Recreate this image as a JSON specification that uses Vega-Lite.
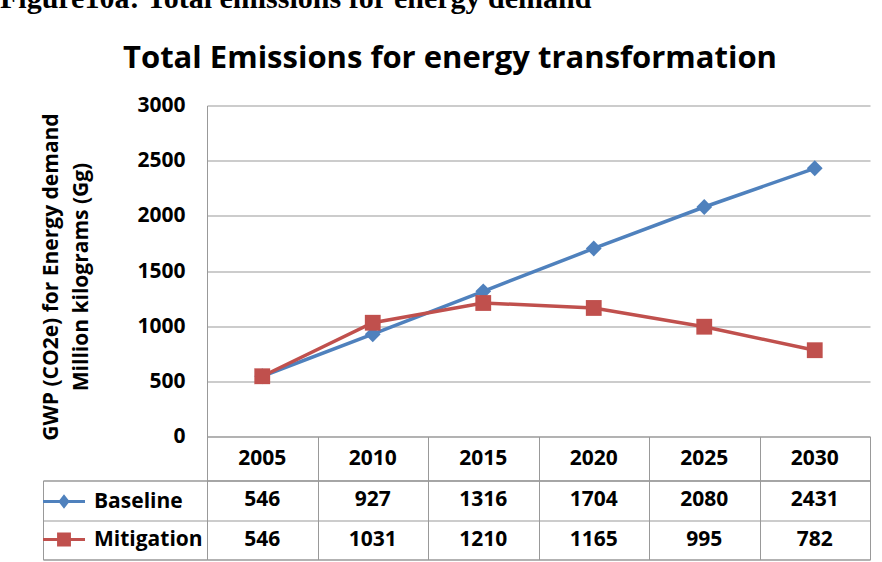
{
  "$schema": "https://vega.github.io/schema/vega-lite/v6.json",
  "background": "white",
  "padding": {"left": 0, "top": -16.5, "right": 10, "bottom": 0},
  "datasets": {
    "emissions": [
      {"year": 2005, "series": "Baseline", "value": 546},
      {"year": 2010, "series": "Baseline", "value": 927},
      {"year": 2015, "series": "Baseline", "value": 1316},
      {"year": 2020, "series": "Baseline", "value": 1704},
      {"year": 2025, "series": "Baseline", "value": 2080},
      {"year": 2030, "series": "Baseline", "value": 2431},
      {"year": 2005, "series": "Mitigation", "value": 546},
      {"year": 2010, "series": "Mitigation", "value": 1031},
      {"year": 2015, "series": "Mitigation", "value": 1210},
      {"year": 2020, "series": "Mitigation", "value": 1165},
      {"year": 2025, "series": "Mitigation", "value": 995},
      {"year": 2030, "series": "Mitigation", "value": 782}
    ]
  },
  "title": {
    "text": "Figure10a: Total emissions for energy demand",
    "anchor": "start",
    "frame": "group",
    "dx": -43,
    "font": "Liberation Serif",
    "fontSize": 30,
    "fontWeight": "bold",
    "color": "black",
    "offset": 28.5
  },
  "columns": 2,
  "spacing": 0,
  "bounds": "flush",
  "resolve": {
    "scale": {"x": "independent", "y": "independent", "color": "independent", "shape": "independent"},
    "legend": {"color": "independent", "shape": "independent"}
  },
  "concat": [
    {
      "width": 164,
      "height": 331,
      "view": {"stroke": null},
      "data": {"values": []},
      "mark": "point"
    },
    {
      "width": 663,
      "height": 331,
      "view": {"stroke": null},
      "title": {
        "text": "Total Emissions for energy transformation",
        "anchor": "middle",
        "frame": "group",
        "dx": -88.5,
        "font": "Open Sans",
        "fontSize": 31,
        "fontWeight": "bold",
        "baseline": "alphabetic",
        "offset": -4,
        "color": "black"
      },
      "data": {"name": "emissions"},
      "encoding": {
        "x": {
          "field": "year",
          "type": "quantitative",
          "scale": {"domain": [2002.5, 2032.5], "nice": false, "zero": false},
          "axis": null
        },
        "y": {
          "field": "value",
          "type": "quantitative",
          "scale": {"domain": [0, 3000], "nice": false},
          "axis": {
            "values": [0, 500, 1000, 1500, 2000, 2500, 3000],
            "format": "d",
            "grid": true,
            "gridColor": "#999999",
            "ticks": false,
            "domain": true,
            "domainColor": "#999999",
            "labelFont": "Open Sans",
            "labelFontSize": 21,
            "labelFontWeight": "bold",
            "labelColor": "black",
            "labelPadding": 22,
            "title": ["GWP (CO2e) for Energy demand", "Million kilograms (Gg)"],
            "titleFont": "Open Sans",
            "titleFontSize": 21,
            "titleFontWeight": "bold",
            "titleColor": "black",
            "titleLineHeight": 30,
            "titleX": -150,
            "titleY": 171,
            "titleBaseline": "alphabetic",
            "titleAngle": -90,
            "titleAlign": "center"
          }
        },
        "color": {
          "field": "series",
          "type": "nominal",
          "scale": {"domain": ["Baseline", "Mitigation"], "range": ["#4F81BD", "#C0504D"]},
          "legend": null
        }
      },
      "layer": [
        {"mark": {"type": "line", "strokeWidth": 3.5}},
        {
          "mark": {"type": "point", "filled": true, "opacity": 1, "size": 250},
          "encoding": {
            "shape": {
              "field": "series",
              "type": "nominal",
              "scale": {"domain": ["Baseline", "Mitigation"], "range": ["diamond", "square"]},
              "legend": null
            }
          }
        }
      ]
    },
    {
      "width": 164,
      "height": 44,
      "view": {"stroke": null},
      "data": {"values": []},
      "mark": "point"
    },
    {
      "width": 663,
      "height": 44,
      "data": {"name": "emissions"},
      "transform": [{"filter": "datum.series === 'Baseline'"}],
      "mark": {"type": "text", "font": "Open Sans", "fontSize": 21, "fontWeight": "bold", "color": "black"},
      "encoding": {
        "x": {
          "field": "year",
          "type": "ordinal",
          "scale": {"paddingInner": 0, "paddingOuter": 0},
          "axis": {"grid": true, "tickBand": "extent", "gridColor": "#999999", "gridOpacity": 1, "labels": false, "ticks": false, "domain": false, "title": null}
        },
        "text": {"field": "year", "type": "ordinal"}
      }
    },
    {
      "width": 164,
      "height": 79,
      "data": {"name": "emissions"},
      "transform": [{"filter": "datum.year === 2005"}],
      "mark": {"type": "point", "filled": true, "opacity": 0},
      "encoding": {
        "y": {
          "field": "series",
          "type": "nominal",
          "scale": {"domain": ["Baseline", "Mitigation"], "paddingInner": 0, "paddingOuter": 0},
          "axis": {"grid": true, "tickBand": "extent", "gridColor": "#999999", "gridOpacity": 1, "labels": false, "ticks": false, "domain": false, "title": null}
        },
        "color": {
          "field": "series",
          "type": "nominal",
          "scale": {"domain": ["Baseline", "Mitigation"], "range": ["#4F81BD", "#C0504D"]},
          "legend": {
            "orient": "top-left",
            "offset": 0,
            "padding": 0,
            "title": null,
            "symbolSize": 1764,
            "symbolStrokeWidth": 0,
            "symbolOpacity": 1,
            "labelFont": "Open Sans",
            "labelFontSize": 21,
            "labelFontWeight": "bold",
            "labelColor": "black",
            "labelOffset": 9,
            "rowPadding": 7
          }
        },
        "shape": {
          "field": "series",
          "type": "nominal",
          "scale": {
            "domain": ["Baseline", "Mitigation"],
            "range": [
              "M-1,-0.075L1,-0.075L1,0.075L-1,0.075Z M0,-0.34L0.27,0L0,0.34L-0.27,0Z",
              "M-1,-0.075L1,-0.075L1,0.075L-1,0.075Z M-0.33,-0.33L0.33,-0.33L0.33,0.33L-0.33,0.33Z"
            ]
          },
          "legend": {
            "orient": "top-left",
            "offset": 0,
            "padding": 0,
            "title": null,
            "symbolSize": 1764,
            "symbolStrokeWidth": 0,
            "symbolOpacity": 1,
            "labelFont": "Open Sans",
            "labelFontSize": 21,
            "labelFontWeight": "bold",
            "labelColor": "black",
            "labelOffset": 9,
            "rowPadding": 7
          }
        }
      }
    },
    {
      "width": 663,
      "height": 79,
      "data": {"name": "emissions"},
      "mark": {"type": "text", "font": "Open Sans", "fontSize": 21, "fontWeight": "bold", "color": "black"},
      "encoding": {
        "x": {
          "field": "year",
          "type": "ordinal",
          "scale": {"paddingInner": 0, "paddingOuter": 0},
          "axis": {"grid": true, "tickBand": "extent", "gridColor": "#999999", "gridOpacity": 1, "labels": false, "ticks": false, "domain": false, "title": null}
        },
        "y": {
          "field": "series",
          "type": "nominal",
          "scale": {"domain": ["Baseline", "Mitigation"], "paddingInner": 0, "paddingOuter": 0},
          "axis": {"grid": true, "tickBand": "extent", "gridColor": "#999999", "gridOpacity": 1, "labels": false, "ticks": false, "domain": false, "title": null}
        },
        "text": {"field": "value", "type": "quantitative", "format": "d"}
      }
    }
  ],
  "config": {
    "font": "Open Sans",
    "view": {"stroke": "#999999", "strokeWidth": 1},
    "axis": {"minExtent": 0}
  }
}
